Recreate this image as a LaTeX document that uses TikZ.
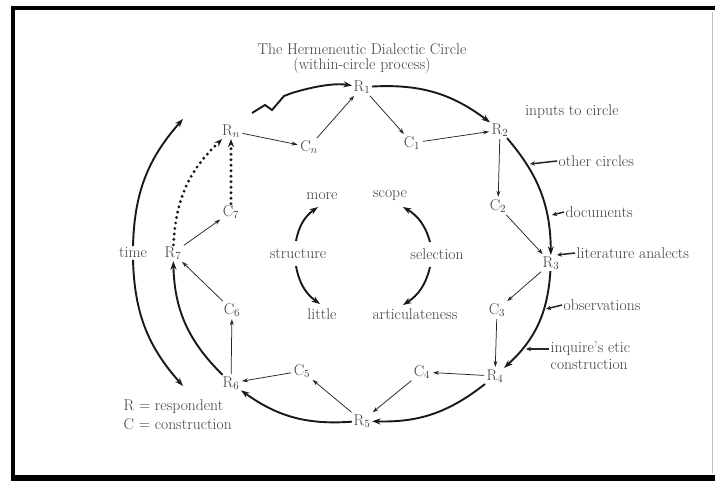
\documentclass[tikz,border=0pt]{standalone}
\usetikzlibrary{arrows.meta,calc}
\begin{document}
\begin{tikzpicture}[x=1pt,y=-1pt,
  every node/.style={font=\fontsize{15.6}{17}\selectfont, text=black!75, inner sep=1.5pt},
  flow/.style={-{Stealth[length=6pt,width=4pt]}, line width=0.75pt, black!85, shorten >=1pt, shorten <=1pt},
  arcflow/.style={-{Stealth[length=8.5pt,width=6pt]}, line width=1.9pt, black!90},
  dotflow/.style={-{Stealth[length=8pt,width=6pt]}, line width=3.2pt, line cap=round, dash pattern=on 0pt off 5.5pt, black!90},
  inflow/.style={-{Stealth[length=5pt,width=4.5pt]}, line width=1.5pt, black!85}]
\useasboundingbox (0,0) rectangle (715,481);
\fill[white] (0,0) rectangle (715,481);
% frame
\fill[black] (11,6) rectangle (715,10);
\fill[black] (11,6) rectangle (15,481);
\fill[black] (11,475) rectangle (715,481);
\draw[black!25, line width=0.8pt] (712,12) -- (712,473);

% title
\node (t1) at (362,49) {The Hermeneutic Dialectic Circle};
\node (t2) at (362,66) {(within-circle process)};

% R nodes
\node (R1) at (362,87) {R$_1$};
\node (R2) at (500,130) {R$_2$};
\node (R3) at (551,263) {R$_3$};
\node (R4) at (495,376) {R$_4$};
\node (R5) at (362,421) {R$_5$};
\node (R6) at (231,383) {R$_6$};
\node (R7) at (173,253) {R$_7$};
\node (Rn) at (231,131) {R$_n$};
% C nodes
\node (C1) at (412,143) {C$_1$};
\node (C2) at (498,206) {C$_2$};
\node (C3) at (497,310) {C$_3$};
\node (C4) at (422,372) {C$_4$};
\node (C5) at (302,371) {C$_5$};
\node (C6) at (232,310) {C$_6$};
\node (C7) at (231,212) {C$_7$};
\node (Cn) at (309,147) {C$_n$};

% inner arrows
\draw[flow] (R1) -- (C1);
\draw[flow] (C1) -- (R2);
\draw[flow] (R2) -- (C2);
\draw[flow] (C2) -- (R3);
\draw[flow] (R3) -- (C3);
\draw[flow] (C3) -- (R4);
\draw[flow] (R4) -- (C4);
\draw[flow] (C4) -- (R5);
\draw[flow] (R5) -- (C5);
\draw[flow] (C5) -- (R6);
\draw[flow] (R6) -- (C6);
\draw[flow] (C6) -- (R7);
\draw[flow] (R7) -- (C7);
\draw[flow] (Rn) -- (Cn);
\draw[flow] (Cn) -- (R1);
\draw[dotflow] (C7) -- (Rn);

% outer arcs
\draw[arcflow] (R1) to[bend left=20] (R2);
\draw[arcflow] (R2) to[bend left=20] (R3);
\draw[arcflow] (R3) to[bend left=22] (R4);
\draw[arcflow] (R4) to[bend left=20] (R5);
\draw[arcflow] (R5) to[bend left=20] (R6);
\draw[arcflow] (R6) to[bend left=22] (R7);
\draw[dotflow] (R7) to[bend left=22] (Rn);
\coordinate (zz) at (252,113);
\draw[arcflow] (zz) -- (265,105) -- (272,110) -- (284,96) -- (292,93) .. controls (315,86) and (335,83) .. (R1);

% time
\node (time) at (133,253) {time};
\coordinate (tup) at (183,119);
\coordinate (tdn) at (183,386);
\draw[arcflow] (time.north) to[bend left=20] (tup);
\draw[arcflow] (time.south) to[bend right=20] (tdn);

% legend
\node[anchor=west] (lr) at (122,407) {R = respondent};
\node[anchor=west] (lc) at (122,424) {C = construction};

% inner small circle
\node (more) at (322,196) {more};
\node (scope) at (390,196) {scope};
\node (structure) at (298,254) {structure};
\node (selection) at (437,254) {selection};
\node (little) at (322,314) {little};
\node (artic) at (415,314) {articulateness};
\coordinate (mo) at (318,207);
\coordinate (sc) at (403,207);
\coordinate (li) at (320,304);
\coordinate (ar) at (403,305);
\coordinate (st1) at (296,241);
\coordinate (st2) at (296,266);
\coordinate (se1) at (430,242);
\coordinate (se2) at (430,267);
\draw[arcflow] (st1) to[bend left=22] (mo);
\draw[arcflow] (st2) to[bend right=22] (li);
\draw[arcflow] (se1) to[bend right=22] (sc);
\draw[arcflow] (se2) to[bend left=22] (ar);

% inputs
\node (inp) at (572,112) {inputs to circle};
\node[anchor=west] (oc) at (557,161) {other circles};
\node[anchor=west] (doc) at (564,212) {documents};
\node[anchor=west] (lit) at (575,253) {literature analects};
\node[anchor=west] (obs) at (562,305) {observations};
\node[anchor=west,align=left] (inq) at (549,356) {inquire's etic\\construction};
\coordinate (oct) at (530,164);
\coordinate (doct) at (552,215);
\coordinate (litt) at (557,255);
\coordinate (obst) at (546,309);
\coordinate (inqt) at (526,349);
\draw[inflow] (oc.west) -- (oct);
\draw[inflow] (doc.west) -- (doct);
\draw[inflow] (lit.west) -- (litt);
\draw[inflow] (obs.west) -- (obst);
\draw[inflow] (inq.west |- inqt) -- (inqt);
\end{tikzpicture}
\end{document}
